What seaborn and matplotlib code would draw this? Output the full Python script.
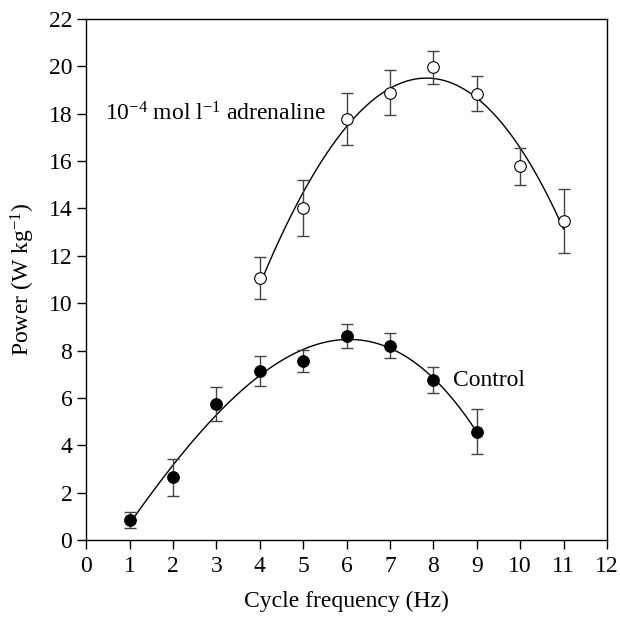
import numpy as np
import pandas as pd
import matplotlib
matplotlib.use("Agg")
import matplotlib.pyplot as plt
import seaborn as sns

# values
ctrl_freq = [1, 2, 3, 4, 5, 6, 7, 8, 9]
ctrl_power = [0.84, 2.64, 5.74, 7.14, 7.55, 8.62, 8.21, 6.75, 4.57]
ctrl_err = [0.32, 0.77, 0.72, 0.62, 0.47, 0.50, 0.52, 0.56, 0.95]

adr_freq = [4, 5, 6, 7, 8, 9, 10, 11]
adr_power = [11.07, 14.02, 17.79, 18.89, 19.97, 18.85, 15.78, 13.47]
adr_err = [0.89, 1.18, 1.09, 0.94, 0.70, 0.75, 0.78, 1.34]

x_ticks = list(range(0, 13))
y_ticks = list(range(0, 23, 2))

ctrl = pd.DataFrame({"freq": ctrl_freq, "power": ctrl_power, "err": ctrl_err})
adr = pd.DataFrame({"freq": adr_freq, "power": adr_power, "err": adr_err})

sns.set_style("ticks")
plt.rcParams["font.family"] = ["Liberation Serif", "DejaVu Serif"]
plt.rcParams["mathtext.fontset"] = "custom"
plt.rcParams["mathtext.rm"] = "Liberation Serif"
plt.rcParams["mathtext.it"] = "Liberation Serif:italic"
plt.rcParams["text.color"] = "black"
plt.rcParams["axes.labelcolor"] = "black"

fs = 17

fig, ax = plt.subplots(figsize=(6.2, 6.17), dpi=100)
fig.subplots_adjust(left=0.139, right=0.979, top=0.969, bottom=0.125)

# fitted curves
sns.regplot(data=ctrl, x="freq", y="power", order=3, ci=None, scatter=False,
            truncate=True, line_kws={"color": "black", "lw": 1.0}, ax=ax)
sns.regplot(data=adr, x="freq", y="power", order=3, ci=None, scatter=False,
            truncate=True, line_kws={"color": "black", "lw": 1.0}, ax=ax)

# error bars
for df in (ctrl, adr):
    ax.errorbar(df["freq"], df["power"], yerr=df["err"], fmt="none",
                ecolor="#444444", elinewidth=1.0, capsize=4.5, capthick=1.0, zorder=3)

sns.scatterplot(data=ctrl, x="freq", y="power", color="black", edgecolor="black",
                s=70, linewidth=0.8, zorder=4, ax=ax)
sns.scatterplot(data=adr, x="freq", y="power", color="white", edgecolor="black",
                s=70, linewidth=0.8, zorder=4, ax=ax)

ax.text(0.44, 18.0, r"10$^{\mathrm{-4}}$ mol l$^{\mathrm{-1}}$ adrenaline", fontsize=fs,
        va="center", ha="left", color="black")
ax.text(8.46, 6.75, "Control", fontsize=fs, va="center", ha="left", color="black")

ax.set_xlim(0, 12)
ax.set_ylim(0, 22)
ax.set_xticks(x_ticks)
ax.set_yticks(y_ticks)
ax.tick_params(axis="both", labelsize=fs, direction="out", length=6.5, width=1.0,
               colors="black", top=False, right=False)
ax.tick_params(axis="x", pad=5)
ax.set_xlabel("Cycle frequency (Hz)", fontsize=fs, labelpad=10, color="black")
ax.set_ylabel(r"Power (W kg$^{\mathrm{-1}}$)", fontsize=fs, labelpad=8, color="black")
for s in ax.spines.values():
    s.set_visible(True)
    s.set_linewidth(1.0)
    s.set_color("black")

fig.savefig("out.png", dpi=100)
